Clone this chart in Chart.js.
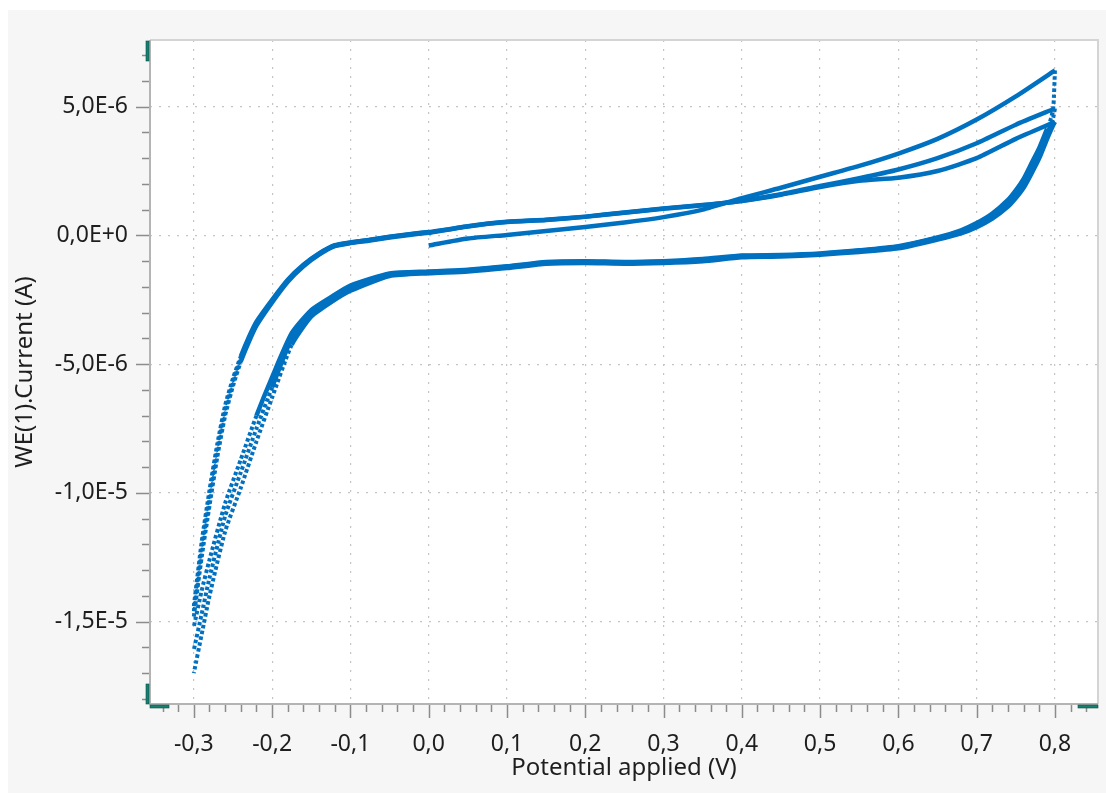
<!DOCTYPE html>
<html>
<head>
<meta charset="utf-8">
<script src="https://cdn.jsdelivr.net/npm/chart.js@4"></script>
<style>
  html, body { margin: 0; padding: 0; background: #ffffff; }
  #wrap { position: absolute; left: 0; top: 0; width: 1106px; height: 793px; }
</style>
</head>
<body>
<div id="wrap"><canvas id="cv" width="1106" height="793"></canvas></div>
<script>
// Achsen (Beschriftung mit Dezimalkomma wie im Original)
const xMajor = [-0.3, -0.2, -0.1, 0.0, 0.1, 0.2, 0.3, 0.4, 0.5, 0.6, 0.7, 0.8];
const xTickLabels = ["-0,3", "-0,2", "-0,1", "0,0", "0,1", "0,2", "0,3", "0,4", "0,5", "0,6", "0,7", "0,8"];
const yMajor = [-1.5e-5, -1.0e-5, -5.0e-6, 0, 5.0e-6];
const yTickLabels = ["-1,5E-5", "-1,0E-5", "-5,0E-6", "0,0E+0", "5,0E-6"];

// Potentiale (V) der einzelnen Äste
const fwdV = [0, 0.05, 0.1, 0.15, 0.2, 0.25, 0.3, 0.35, 0.4, 0.45, 0.5, 0.55, 0.6, 0.65, 0.7, 0.75, 0.8];
const revV = [0.8, 0.798, 0.795, 0.79, 0.78, 0.77, 0.76, 0.75, 0.74, 0.72, 0.7, 0.68, 0.65,
  0.6, 0.55, 0.5, 0.45, 0.4, 0.35, 0.3, 0.25, 0.2, 0.15, 0.1, 0.05, 0,
  -0.05, -0.1, -0.125, -0.15, -0.175, -0.2, -0.22, -0.24, -0.26, -0.28, -0.29, -0.3];
const lowV = [-0.3, -0.29, -0.28, -0.27, -0.26, -0.25, -0.24, -0.23, -0.22, -0.2, -0.18,
  -0.16, -0.14, -0.12, -0.1, -0.075, -0.05, -0.025, 0];

// Ströme in µA
const fwd1 = [-0.39, -0.12, 0.02, 0.17, 0.33, 0.5, 0.71, 1.0, 1.45, 1.85, 2.28, 2.7, 3.18, 3.75, 4.5, 5.4, 6.41];
const fwd2 = [0.1, 0.35, 0.52, 0.6, 0.72, 0.88, 1.04, 1.17, 1.35, 1.6, 1.92, 2.22, 2.56, 3.0, 3.58, 4.3, 4.93];
const fwd3 = [0.12, 0.36, 0.53, 0.61, 0.73, 0.89, 1.05, 1.18, 1.34, 1.58, 1.88, 2.12, 2.24, 2.5, 3.0, 3.75, 4.41];

const rev1 = [6.41, 5.0, 4.55, 4.15, 3.4, 2.8, 2.2, 1.75, 1.38, 0.85, 0.48, 0.2, -0.08,
  -0.42, -0.58, -0.7, -0.76, -0.78, -0.92, -1.0, -1.03, -1.0, -1.03, -1.2, -1.33, -1.4,
  -1.48, -1.95, -2.4, -2.9, -3.8, -5.5, -7.0, -8.7, -10.4, -12.6, -13.8, -15.2];
const rev2 = [4.93, 4.6, 4.3, 3.95, 3.2, 2.6, 2.0, 1.6, 1.25, 0.75, 0.4, 0.15, -0.1,
  -0.45, -0.6, -0.72, -0.78, -0.8, -0.95, -1.02, -1.05, -1.02, -1.05, -1.22, -1.35, -1.42,
  -1.52, -2.05, -2.5, -3.0, -4.0, -5.9, -7.5, -9.2, -10.9, -13.3, -14.7, -16.1];
const rev3 = [4.41, 4.3, 4.1, 3.75, 3.0, 2.4, 1.85, 1.45, 1.12, 0.65, 0.32, 0.08, -0.16,
  -0.5, -0.64, -0.75, -0.82, -0.85, -1.0, -1.07, -1.1, -1.07, -1.1, -1.27, -1.4, -1.47,
  -1.58, -2.15, -2.6, -3.15, -4.25, -6.3, -8.0, -9.8, -11.5, -14.0, -15.5, -17.0];

const low1 = [-14.8, -12.5, -10.5, -8.6, -7.0, -5.85, -4.9, -4.15, -3.5, -2.6, -1.8, -1.2, -0.75, -0.42, -0.3, -0.2, -0.08, 0.02, 0.1];
const low2 = [-14.6, -12.2, -10.2, -8.3, -6.8, -5.7, -4.8, -4.05, -3.42, -2.55, -1.76, -1.17, -0.72, -0.4, -0.28, -0.18, -0.06, 0.04, 0.12];
const low3 = [-14.4, -11.9, -9.9, -8.1, -6.6, -5.55, -4.7, -3.97, -3.35, -2.5, -1.72, -1.14, -0.7, -0.38, -0.27, -0.17, -0.05, 0.05, 0.13];

const BLUE = "#0070c0";
const TEAL = "#14806f";
const FONT = "'Noto Sans', 'Open Sans', sans-serif";

function branch(vs, uA) {
  return vs.map((v, i) => ({ x: v, y: uA[i] * 1e-6 }));
}

// steile Abschnitte: Messpunkte liegen dort sichtbar auseinander -> gepunktet
const steep = (c) => {
  const dx = Math.abs(c.p1.x - c.p0.x), dy = Math.abs(c.p1.y - c.p0.y);
  return dy > 6 && dy > 2.6 * dx;
};

function ds(points) {
  return {
    data: points,
    showLine: true,
    borderColor: BLUE,
    backgroundColor: BLUE,
    borderWidth: 4.5,
    pointRadius: 0,
    tension: 0.2,
    borderCapStyle: "butt",
    borderJoinStyle: "round",
    segment: {
      borderDash: (c) => steep(c) ? [3.5, 2.5] : undefined,
      borderWidth: (c) => steep(c) ? 4 : undefined
    }
  };
}

const isMajor = (list, v) => list.some(m => Math.abs(m - v) < 1e-12);
const idxOf = (list, v) => list.findIndex(m => Math.abs(m - v) < 1e-12);

// Hintergrund, Plotfläche, Achsenstriche, grüne Eckmarken
const framePlugin = {
  id: "frame",
  beforeDraw(chart) {
    const { ctx, chartArea: a } = chart;
    ctx.save();
    ctx.fillStyle = "#f6f6f6";
    ctx.fillRect(8, 10, chart.width - 8, chart.height - 10);
    ctx.fillStyle = "#ffffff";
    ctx.fillRect(a.left, a.top, a.right - a.left, a.bottom - a.top);
    ctx.restore();
  },
  afterDraw(chart) {
    const { ctx, chartArea: a } = chart;
    const xs = chart.scales.x, ys = chart.scales.y;
    ctx.save();
    // Rahmen oben/rechts
    ctx.strokeStyle = "#d4d4d4";
    ctx.lineWidth = 2;
    ctx.beginPath();
    ctx.moveTo(a.left, a.top);
    ctx.lineTo(a.right, a.top);
    ctx.lineTo(a.right, a.bottom);
    ctx.stroke();
    // Achsen links/unten
    ctx.strokeStyle = "#b4b4b4";
    ctx.beginPath();
    ctx.moveTo(a.left, a.top);
    ctx.lineTo(a.left, a.bottom);
    ctx.lineTo(a.right, a.bottom);
    ctx.stroke();
    // Teilstriche
    ctx.strokeStyle = "#8c8c8c";
    ctx.lineWidth = 1.5;
    ctx.beginPath();
    xs.ticks.forEach(t => {
      const px = Math.round(xs.getPixelForValue(t.value)) + 0.5;
      const len = isMajor(xMajor, t.value) ? 13 : 7;
      ctx.moveTo(px, a.bottom + 1);
      ctx.lineTo(px, a.bottom + 1 + len);
    });
    ys.ticks.forEach(t => {
      const py = Math.round(ys.getPixelForValue(t.value)) + 0.5;
      const len = isMajor(yMajor, t.value) ? 13 : 7;
      ctx.moveTo(a.left - 1, py);
      ctx.lineTo(a.left - 1 - len, py);
    });
    ctx.stroke();
    // grüne Marken an den Ecken
    ctx.fillStyle = TEAL;
    ctx.strokeStyle = "#0b5247";
    ctx.lineWidth = 0.6;
    const marks = [
      [a.left - 4, a.top + 1, 3, 20],
      [a.left - 4, a.bottom - 20, 3, 20],
      [a.left, a.bottom + 1, 19, 3],
      [a.right - 20, a.bottom + 1, 20, 3]
    ];
    marks.forEach(m => { ctx.fillRect(...m); ctx.strokeRect(...m); });
    ctx.restore();
  }
};

new Chart(document.getElementById("cv"), {
  type: "scatter",
  data: {
    datasets: [
      ds(branch(fwdV, fwd1)), ds(branch(revV, rev1)), ds(branch(lowV, low1)),
      ds(branch(fwdV, fwd2)), ds(branch(revV, rev2)), ds(branch(lowV, low2)),
      ds(branch(fwdV, fwd3)), ds(branch(revV, rev3)), ds(branch(lowV, low3))
    ]
  },
  options: {
    responsive: false,
    animation: false,
    devicePixelRatio: 1,
    layout: { padding: { left: 0, top: 40, right: 8, bottom: 0 } },
    plugins: {
      legend: { display: false },
      tooltip: { enabled: false }
    },
    scales: {
      x: {
        type: "linear",
        min: -0.356,
        max: 0.855,
        afterBuildTicks: (scale) => {
          const t = [];
          for (let k = -17; k <= 42; k++) t.push({ value: Math.round(k * 2) / 100 });
          scale.ticks = t;
        },
        afterFit: (scale) => {
          scale.height = 89;
          scale.paddingLeft = 0;
          scale.paddingRight = 0;
        },
        ticks: {
          autoSkip: false,
          maxRotation: 0,
          minRotation: 0,
          padding: 27,
          color: "#1e1e1e",
          font: { family: FONT, size: 23 },
          callback: (v) => {
            const i = idxOf(xMajor, v);
            return i >= 0 ? xTickLabels[i] : "";
          }
        },
        grid: {
          drawTicks: false,
          color: (c) => (c.tick && isMajor(xMajor, c.tick.value)) ? "#c4c4c4" : "rgba(0,0,0,0)",
          lineWidth: 1.2
        },
        border: { display: false, dash: [2, 7] },
        title: {
          display: true,
          text: "Potential applied (V)",
          color: "#1e1e1e",
          font: { family: FONT, size: 24 },
          padding: { top: 0, bottom: 10 }
        }
      },
      y: {
        type: "linear",
        min: -1.82e-5,
        max: 7.59e-6,
        afterBuildTicks: (scale) => {
          const t = [];
          for (let k = -18; k <= 7; k++) t.push({ value: k * 1e-6 });
          scale.ticks = t;
        },
        afterFit: (scale) => {
          scale.width = 150;
          scale.paddingTop = 0;
          scale.paddingBottom = 0;
        },
        ticks: {
          autoSkip: false,
          padding: 22,
          color: "#1e1e1e",
          font: { family: FONT, size: 23 },
          callback: (v) => {
            const i = idxOf(yMajor, v);
            return i >= 0 ? yTickLabels[i] : "";
          }
        },
        grid: {
          drawTicks: false,
          color: (c) => (c.tick && isMajor(yMajor, c.tick.value)) ? "#c4c4c4" : "rgba(0,0,0,0)",
          lineWidth: 1.2
        },
        border: { display: false, dash: [2, 7] },
        title: {
          display: true,
          text: "WE(1).Current (A)",
          color: "#1e1e1e",
          font: { family: FONT, size: 24 },
          padding: { top: 11, bottom: 0 }
        }
      }
    }
  },
  plugins: [framePlugin]
});
</script>
</body>
</html>
